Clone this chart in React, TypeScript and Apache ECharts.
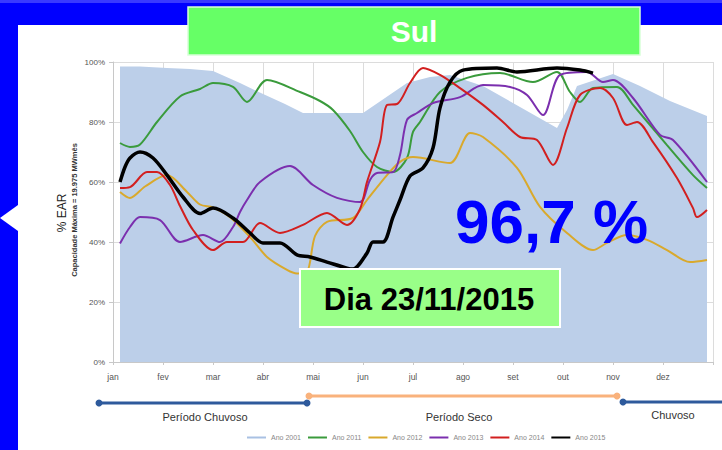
import React, { useEffect, useRef } from "react";
import * as echarts from "echarts";

// x = month position (0 = jan), y = % EAR
const months = ["jan", "fev", "mar", "abr", "mai", "jun", "jul", "ago", "set", "out", "nov", "dez"];
const seriesNames = ["Ano 2001", "Ano 2011", "Ano 2012", "Ano 2013", "Ano 2014", "Ano 2015"];
const seriesColors = ["#a9c1e3", "#3a9b3c", "#d9a92c", "#7b2fae", "#d21f1f", "#000000"];

const ano2001: [number, number][] = [
  [0.14, 98.5], [0.54, 98.5], [1.08, 98], [1.54, 97.7], [2.0, 97], [2.54, 93], [2.98, 89.5],
  [3.44, 86], [3.8, 83], [5.0, 83], [5.44, 88], [5.88, 93], [6.34, 95], [6.74, 95.7],
  [7.4, 92], [8.14, 85], [8.88, 78], [9.08, 84], [9.28, 92], [9.64, 94], [10.0, 96],
  [10.54, 92], [11.14, 87], [11.88, 82],
];
const ano2011: [number, number][] = [
  [0.14, 73], [0.34, 71.7], [0.54, 72.5], [0.88, 80], [1.34, 88.5], [1.74, 91], [2.0, 93],
  [2.4, 91.7], [2.68, 86.7], [3.08, 94], [3.74, 90], [4.14, 87], [4.4, 84], [4.74, 77],
  [5.0, 70], [5.28, 65], [5.6, 63.3], [5.88, 68], [6.0, 76.7], [6.14, 80], [6.54, 90],
  [7.08, 94.7], [7.74, 96.3], [8.4, 93.3], [8.88, 96.7], [9.14, 90], [9.34, 86.7],
  [9.6, 91.3], [10.08, 91.7], [10.4, 85.7], [11.08, 72.3], [11.6, 62.3], [11.88, 58],
];
const ano2012: [number, number][] = [
  [0.14, 56.7], [0.34, 54.7], [0.64, 58.5], [1.08, 62.3], [1.48, 56.7], [1.74, 52.5],
  [2.0, 51.5], [2.34, 48.3], [2.74, 41.7], [3.08, 35], [3.48, 30.7], [3.68, 29.5],
  [3.88, 30], [4.04, 42], [4.28, 46.7], [4.8, 48], [5.08, 54], [5.48, 62.3], [5.74, 66.7],
  [6.0, 68.3], [6.74, 66.3], [7.14, 76.3], [7.4, 75], [8.08, 64.7], [8.54, 51.7],
  [9.08, 43], [9.6, 37.3], [9.88, 39.7], [10.28, 42.3], [10.68, 40.7], [11.08, 37.3],
  [11.54, 33.3], [11.88, 34],
];
const ano2013: [number, number][] = [
  [0.14, 39.5], [0.34, 45], [0.54, 48.3], [0.94, 47.3], [1.34, 40], [1.8, 42.3], [2.14, 40],
  [2.4, 45], [2.54, 50], [2.68, 54], [2.94, 60], [3.54, 65.3], [4.0, 59], [4.48, 54.7],
  [4.94, 53.3], [5.14, 60.7], [5.28, 63], [5.6, 63.3], [5.74, 69], [5.88, 80.7], [6.08, 83],
  [6.4, 86.3], [6.94, 88.3], [7.4, 92.3], [7.94, 91.7], [8.28, 89], [8.6, 82.3],
  [8.94, 95.7], [9.48, 96.7], [9.8, 93.3], [10.0, 94], [10.4, 88], [10.94, 75.7],
  [11.2, 74], [11.88, 60],
];
const ano2014: [number, number][] = [
  [0.14, 58], [0.34, 58.3], [0.68, 63.3], [0.88, 63.3], [1.14, 59], [1.34, 52], [1.6, 44],
  [2.0, 37.3], [2.28, 40], [2.6, 40], [2.94, 46.3], [3.34, 43], [3.8, 45.7], [4.28, 49.7],
  [4.68, 45.7], [4.94, 51], [5.08, 60], [5.34, 73.3], [5.48, 85.7], [5.68, 86], [5.94, 93],
  [6.2, 98], [6.54, 95.7], [6.94, 91.3], [7.4, 85.7], [7.8, 80], [8.14, 75], [8.48, 74],
  [8.8, 65.7], [9.08, 78], [9.34, 89], [9.74, 91.3], [10.0, 88], [10.28, 79], [10.48, 80],
  [10.8, 73.3], [11.28, 61.3], [11.6, 51.3], [11.68, 48.3], [11.88, 50.7],
];
const ano2015: [number, number][] = [
  [0.14, 60], [0.24, 65], [0.34, 68], [0.54, 70], [0.8, 68], [1.08, 62.3], [1.4, 55],
  [1.74, 49.5], [2.0, 51.3], [2.4, 48], [2.74, 43], [3.0, 39.7], [3.34, 39.7], [3.68, 35.7],
  [3.94, 35], [4.28, 33.3], [4.68, 31.3], [4.8, 31], [5.08, 36.3], [5.2, 40], [5.4, 40],
  [5.6, 48.3], [5.74, 54], [5.94, 62], [6.2, 64.7], [6.4, 71.3], [6.54, 84.7], [6.74, 93.3],
  [7.0, 97.3], [7.68, 98], [8.08, 96.7], [8.88, 98], [9.34, 97.3], [9.6, 96.3],
];

const periodLabels = ["Período Chuvoso", "Período Seco", "Chuvoso"];
const titleText = "Sul";
const bigValue = "96,7 %";
const dayText = "Dia 23/11/2015";
const yAxisTitle = "% EAR";
const yAxisSubtitle = "Capacidade Máxima = 19.975 MWmês";

const FONT = "'Liberation Sans', Arial, sans-serif";

export default function App() {
  const ref = useRef<HTMLDivElement>(null);
  useEffect(() => {
    if (!ref.current) return;
    const chart = echarts.init(ref.current, undefined, { renderer: "svg" });
    const lineData = [ano2011, ano2012, ano2013, ano2014, ano2015];
    const lineSeries = lineData.map((d, i) => ({
      name: seriesNames[i + 1],
      type: "line",
      data: d,
      smooth: 0.3,
      symbol: "none",
      z: 3 + i,
      itemStyle: { color: seriesColors[i + 1] },
      lineStyle: { color: seriesColors[i + 1], width: i === 4 ? 3.5 : 2 },
    }));
    const option: any = {
      animation: false,
      textStyle: { fontFamily: FONT },
      grid: { left: 113, right: 9, top: 62, bottom: 88 },
      xAxis: {
        type: "value",
        min: 0,
        max: 12,
        interval: 1,
        axisLine: { show: true, lineStyle: { color: "#c8c8c8" } },
        axisTick: { show: true, length: 3, lineStyle: { color: "#c8c8c8" } },
        axisLabel: {
          fontSize: 8.5,
          color: "#555",
          margin: 10,
          fontFamily: FONT,
          formatter: (v: number) => months[Math.round(v)] ?? "",
        },
        splitLine: { show: true, lineStyle: { color: "#dcdcdc", width: 1 } },
      },
      yAxis: {
        type: "value",
        min: 0,
        max: 100,
        interval: 20,
        axisLine: { show: true, lineStyle: { color: "#c8c8c8" } },
        axisTick: { show: true, length: 4, lineStyle: { color: "#c8c8c8" } },
        axisLabel: { fontSize: 8, color: "#555", margin: 8, fontFamily: FONT, formatter: "{value}%" },
        splitLine: { show: true, lineStyle: { color: "#dcdcdc", width: 1 } },
      },
      legend: {
        left: 242,
        top: 429,
        itemWidth: 19,
        itemHeight: 2,
        itemGap: 7,
        icon: "rect",
        textStyle: { fontSize: 7, color: "#888", fontFamily: FONT },
        data: seriesNames,
      },
      series: [
        {
          name: seriesNames[0],
          type: "line",
          data: ano2001,
          symbol: "none",
          z: 2,
          itemStyle: { color: seriesColors[0] },
          lineStyle: { width: 0, color: seriesColors[0] },
          areaStyle: { color: "#bccfe9", opacity: 1 },
        },
        ...lineSeries,
      ],
      graphic: [
        { type: "rect", z: -10, shape: { x: 0, y: 0, width: 722, height: 450 }, style: { fill: "#0000ff" } },
        { type: "rect", z: -10, shape: { x: 0, y: 0, width: 722, height: 3 }, style: { fill: "#3a3aff" } },
        { type: "rect", z: -9, shape: { x: 18, y: 25, width: 704, height: 425 }, style: { fill: "#ffffff" } },
        { type: "polygon", z: -9, shape: { points: [[0, 218], [18, 205], [18, 231]] }, style: { fill: "#ffffff" } },
        // title box
        { type: "rect", z: 50, shape: { x: 188, y: 7, width: 452, height: 48 }, style: { fill: "#66ff66", stroke: "#d8ffd8", lineWidth: 1.5 } },
        { type: "text", z: 51, x: 414, y: 31, style: { text: titleText, fill: "#ffffff", font: `bold 30px ${FONT}`, align: "center", verticalAlign: "middle" } },
        // y axis titles
        { type: "text", z: 51, x: 62, y: 213, rotation: Math.PI / 2, style: { text: yAxisTitle, fill: "#222", font: `12px ${FONT}`, align: "center", verticalAlign: "middle" } },
        { type: "text", z: 51, x: 74, y: 210, rotation: Math.PI / 2, style: { text: yAxisSubtitle, fill: "#333", font: `bold 7.5px ${FONT}`, align: "center", verticalAlign: "middle" } },
        // annotations
        { type: "text", z: 60, x: 455, y: 221, style: { text: bigValue, fill: "#0000ff", font: `bold 62px ${FONT}`, align: "left", verticalAlign: "middle" } },
        { type: "rect", z: 60, shape: { x: 300, y: 269, width: 260, height: 58 }, style: { fill: "#99ff88", stroke: "#ffffff", lineWidth: 2 } },
        { type: "text", z: 61, x: 429, y: 299, style: { text: dayText, fill: "#000", font: `bold 31px ${FONT}`, align: "center", verticalAlign: "middle" } },
        // period bar
        { type: "line", z: 40, shape: { x1: 99, y1: 403, x2: 307, y2: 403 }, style: { stroke: "#2e5a9c", lineWidth: 3 } },
        { type: "circle", z: 41, shape: { cx: 99, cy: 403, r: 3.5 }, style: { fill: "#2e5a9c" } },
        { type: "circle", z: 41, shape: { cx: 307, cy: 403, r: 3.5 }, style: { fill: "#2e5a9c" } },
        { type: "line", z: 40, shape: { x1: 309, y1: 396, x2: 617, y2: 396 }, style: { stroke: "#f9b27c", lineWidth: 3 } },
        { type: "circle", z: 41, shape: { cx: 309, cy: 396, r: 3.5 }, style: { fill: "#f9b27c" } },
        { type: "circle", z: 41, shape: { cx: 617, cy: 396, r: 3.5 }, style: { fill: "#f9b27c" } },
        { type: "line", z: 40, shape: { x1: 623, y1: 402, x2: 722, y2: 402 }, style: { stroke: "#2e5a9c", lineWidth: 3 } },
        { type: "circle", z: 41, shape: { cx: 623, cy: 402, r: 3.5 }, style: { fill: "#2e5a9c" } },
        { type: "text", z: 41, x: 205, y: 417, style: { text: periodLabels[0], fill: "#333", font: `11px ${FONT}`, align: "center", verticalAlign: "middle" } },
        { type: "text", z: 41, x: 459, y: 417, style: { text: periodLabels[1], fill: "#333", font: `11px ${FONT}`, align: "center", verticalAlign: "middle" } },
        { type: "text", z: 41, x: 673, y: 415, style: { text: periodLabels[2], fill: "#333", font: `11px ${FONT}`, align: "center", verticalAlign: "middle" } },
      ],
    };
    chart.setOption(option);
    return () => chart.dispose();
  }, []);
  return (
    <div
      ref={ref}
      style={{ position: "absolute", left: 0, top: 0, width: 722, height: 450 }}
    />
  );
}
